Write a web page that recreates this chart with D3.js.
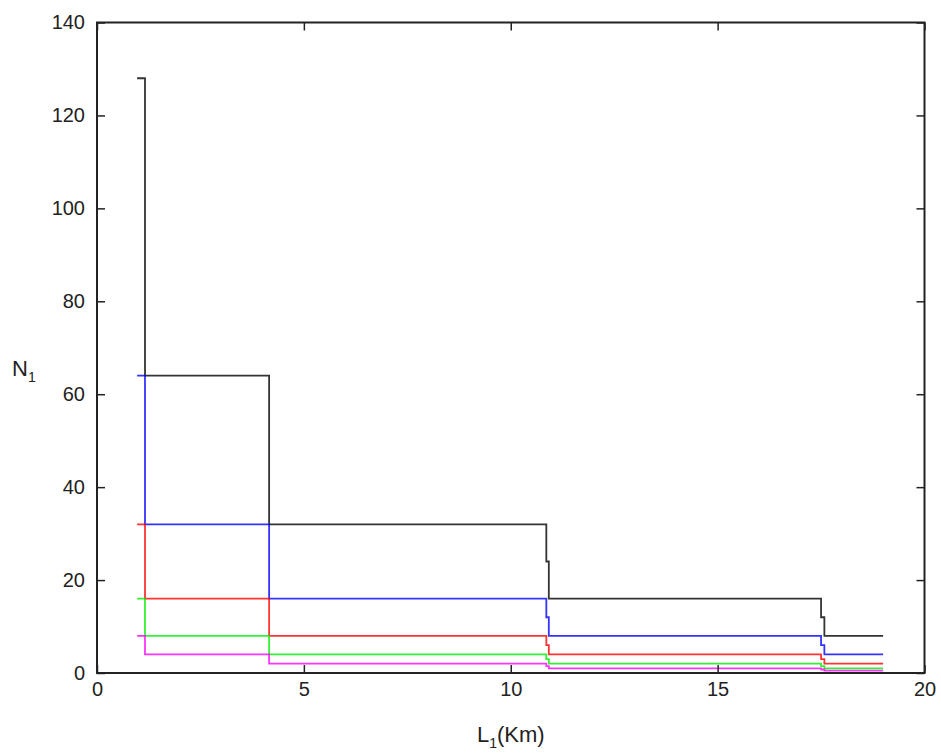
<!DOCTYPE html>
<meta charset="utf-8">
<style>
body { margin: 0; background: #fff; }
text { font-family: "Liberation Sans", Arial, sans-serif; fill: #222; }
</style>
<body>
<script src="https://d3js.org/d3.v7.min.js"></script>
<script>

// step positions along L1 (Km), shared by every curve
var L1 = [0.97, 1.16, 1.16, 4.16, 4.16, 10.86, 10.86, 10.92, 10.92, 17.5, 17.5, 17.58, 17.58, 19.0];

// N1 values for each curve
var N_black   = [128, 128, 64, 64, 32, 32, 24, 24, 16, 16, 12, 12, 8, 8];
var N_blue    = [64, 64, 32, 32, 16, 16, 12, 12, 8, 8, 6, 6, 4, 4];
var N_red     = [32, 32, 16, 16, 8, 8, 6, 6, 4, 4, 3, 3, 2, 2];
var N_green   = [16, 16, 8, 8, 4, 4, 3, 3, 2, 2, 1.5, 1.5, 1, 1];
var N_magenta = [8, 8, 4, 4, 2, 2, 1.5, 1.5, 1, 1, 0.75, 0.75, 0.5, 0.5];

var xTicks = [0, 5, 10, 15, 20];
var yTicks = [0, 20, 40, 60, 80, 100, 120, 140];

var series = [
  {color: "#000000", values: N_black},
  {color: "#0000ff", values: N_blue},
  {color: "#ff0000", values: N_red},
  {color: "#00ee00", values: N_green},
  {color: "#ff00ff", values: N_magenta}
];

var W = 941, H = 755;
var margin = {top: 22.5, right: 16.5, bottom: 82, left: 97};

var x = d3.scaleLinear()
    .domain([0, 20])
    .range([margin.left, W - margin.right]);

var y = d3.scaleLinear()
    .domain([0, 140])
    .range([H - margin.bottom, margin.top]);

var svg = d3.select("body").append("svg")
    .attr("width", W)
    .attr("height", H);

// lines first, axes box on top
var line = d3.line()
    .x(function(d) { return x(d[0]); })
    .y(function(d) { return y(d[1]); });

series.forEach(function(s) {
  var pts = L1.map(function(l, i) { return [l, s.values[i]]; });
  svg.append("path")
      .datum(pts)
      .attr("fill", "none")
      .attr("stroke", s.color)
      .attr("stroke-width", 1.8)
      .attr("opacity", 0.8)
      .attr("d", line);
});

var tk = 8;

// bottom axis
var gx = svg.append("g")
    .attr("transform", "translate(0," + y(0) + ")")
    .call(d3.axisBottom(x).tickValues(xTicks).tickSizeInner(-tk).tickSizeOuter(0).tickPadding(9));
// top axis ticks only
var gxt = svg.append("g")
    .attr("transform", "translate(0," + y(140) + ")")
    .call(d3.axisTop(x).tickValues(xTicks).tickSizeInner(-tk).tickSizeOuter(0).tickFormat(""));
// left axis
var gy = svg.append("g")
    .attr("transform", "translate(" + x(0) + ",0)")
    .call(d3.axisLeft(y).tickValues(yTicks).tickSizeInner(-tk).tickSizeOuter(0).tickPadding(12));
// right axis ticks only
var gyr = svg.append("g")
    .attr("transform", "translate(" + x(20) + ",0)")
    .call(d3.axisRight(y).tickValues(yTicks).tickSizeInner(-tk).tickSizeOuter(0).tickFormat(""));

[gx, gxt, gy, gyr].forEach(function(g) {
  g.select(".domain").remove();
  g.selectAll(".tick line").attr("stroke", "#222").attr("stroke-width", 1.5);
  g.selectAll("text").style("font-size", "20px").attr("fill", "#333");
});

svg.append("rect")
    .attr("x", x(0))
    .attr("y", y(140))
    .attr("width", x(20) - x(0))
    .attr("height", y(0) - y(140))
    .attr("fill", "none")
    .attr("stroke", "#222")
    .attr("stroke-width", 2);

// axis labels
var xl = svg.append("text")
    .attr("x", (x(0) + x(20)) / 2)
    .attr("y", 742)
    .attr("text-anchor", "middle")
    .style("font-size", "22px");
xl.append("tspan").text("L");
xl.append("tspan").attr("dy", 6).style("font-size", "14px").text("1");
xl.append("tspan").attr("dy", -6).text("(Km)");

var yl = svg.append("text")
    .attr("x", 12)
    .attr("y", 376)
    .style("font-size", "22px");
yl.append("tspan").text("N");
yl.append("tspan").attr("dy", 6).style("font-size", "14px").text("1");

</script>
</body>
</html>
